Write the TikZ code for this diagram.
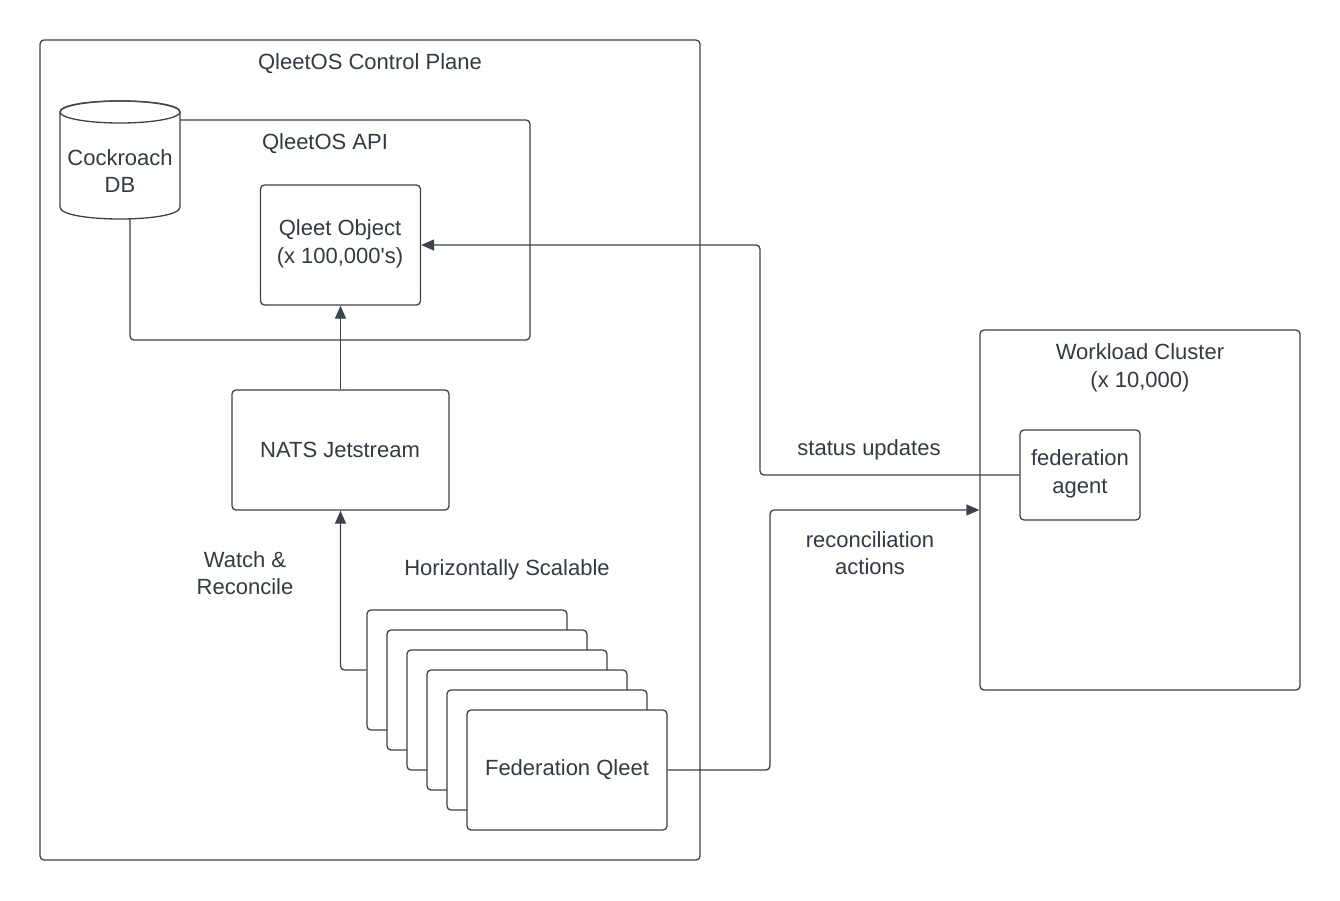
\documentclass[tikz,border=0pt]{standalone}
\usepackage{fontspec}
\setmainfont{Liberation Sans}
\usetikzlibrary{arrows.meta}
\definecolor{ln}{HTML}{3D434C}
\definecolor{tx}{HTML}{333A45}
\begin{document}
\begin{tikzpicture}[x=1pt,y=-1pt,
  box/.style={draw=ln, line width=1.3pt, rounded corners=4pt, fill=white, inner sep=0pt},
  lbl/.style={text=tx, font=\fontsize{22}{27.5}\selectfont, align=center, inner sep=0pt, yshift=-2pt},
  conn/.style={draw=ln, line width=1.3pt, rounded corners=4pt},
  arr/.style={conn, -{Triangle[length=13pt,width=11pt]}}]
\useasboundingbox (0,0) rectangle (1340,900);
\fill[white] (0,0) rectangle (1340,900);

% containers
\node[box, minimum width=660pt, minimum height=820pt] (cp) at (370,450) {};
\node[box, minimum width=400pt, minimum height=220pt] (api) at (330,230) {};

% cylinder
\draw[ln, line width=1.3pt, fill=white]
  (60,112) -- (60,207) .. controls (60,223) and (180,223) .. (180,207)
  -- (180,112) .. controls (180,97.3) and (60,97.3) .. (60,112) -- cycle;
\draw[ln, line width=1.3pt] (120,112) ellipse [x radius=60, y radius=11];
\node[lbl] (db) at (120,169) {Cockroach\\DB};

% boxes
\node[box, minimum width=160pt, minimum height=120pt] (qo) at (340.5,245) {};
\node[box, minimum width=217pt, minimum height=120pt] (nats) at (340.5,450) {};
\foreach \i in {0,...,5}{
  \node[box, minimum width=200pt, minimum height=120pt] (s\i) at ({467+20*\i},{670+20*\i}) {};
}
\node[box, minimum width=320pt, minimum height=360pt] (wc) at (1140,510) {};
\node[box, minimum width=120pt, minimum height=90pt] (agent) at (1080,475) {};

% labels
\node[lbl] (cpl) at (370,62) {QleetOS Control Plane};
\node[lbl] (apil) at (325,142) {QleetOS API};
\node[lbl] (qol) at (340,242) {Qleet Object\\(x 100,000\textquotesingle s)};
\node[lbl] (natsl) at (340,448) {NATS Jetstream};
\node[lbl] (watch) at (245,571) {Watch \&\\Reconcile};
\node[lbl] (hs) at (507,568) {Horizontally Scalable};
\node[lbl] (fq) at (567,768) {Federation Qleet};
\node[lbl] (wcl) at (1140,366) {Workload Cluster\\(x 10,000)};
\node[lbl] (agl) at (1080,472) {federation\\agent};
\node[lbl] (su) at (869,448) {status updates};
\node[lbl] (ra) at (870,551) {reconciliation\\actions};

% connectors
\draw[arr] (nats.north) -- (qo.south);
\draw[arr] (s0.west) -| (nats.south);
\coordinate (r1) at (770,510);
\draw[arr] (s5.east) -| (r1) -- (wc.west |- r1);
\coordinate (u1) at (760,245);
\draw[arr] (agent.west) -| (u1) -- (qo.east);
\end{tikzpicture}
\end{document}
